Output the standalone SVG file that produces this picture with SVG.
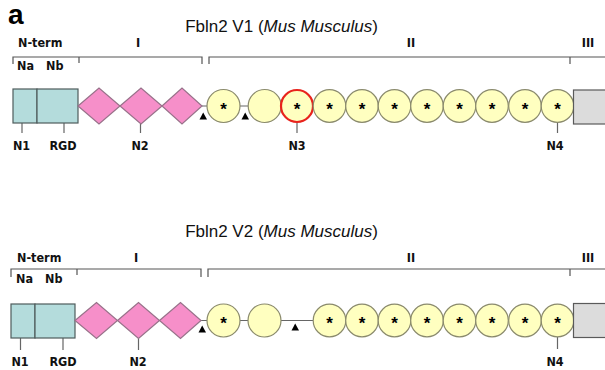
<svg xmlns="http://www.w3.org/2000/svg" width="605" height="370" viewBox="0 0 605 370">
<style>
.bg{fill:#ffffff}
.title{font-family:"Liberation Sans",Arial,sans-serif;font-size:17px;fill:#111}
.lab{font-family:"DejaVu Sans Condensed","DejaVu Sans","Liberation Sans",sans-serif;font-stretch:condensed;font-weight:bold;font-size:12.5px;fill:#111}
.big{font-family:"Liberation Sans",Arial,sans-serif;font-weight:bold;font-size:28px;fill:#000}
.star{font-family:"Liberation Sans",Arial,sans-serif;font-weight:bold;font-size:17px;fill:#000;text-anchor:middle}
.box{fill:#b4dcdc;stroke:#4f5c5c;stroke-width:1.2}
.dia{fill:#f68fc9;stroke:#98728a;stroke-width:1.2}
.cir{fill:#ffffc0;stroke:#8a8a6c;stroke-width:1.2}
.red{fill:#ffffc0;stroke:#e8231c;stroke-width:2.2}
.gray{fill:#dcdcdc;stroke:#5a5a5a;stroke-width:1.2}
.br{fill:none;stroke:#555;stroke-width:1.2}
.ln{fill:none;stroke:#666;stroke-width:1.2}
.tri{fill:#000}
</style>
<rect class="bg" x="0" y="0" width="605" height="370"/>
<text class="big" x="8" y="24">a</text>

<!-- ===== Panel V1 ===== -->
<g id="v1">
<text class="title" x="281.5" y="32" text-anchor="middle">Fbln2 V1 (<tspan font-style="italic">Mus Musculus</tspan>)</text>
<g id="v1-domains">
<text class="lab" x="18" y="47">N-term</text>
<text class="lab" x="138" y="47" text-anchor="middle">I</text>
<text class="lab" x="411" y="47" text-anchor="middle">II</text>
<text class="lab" x="588" y="47" text-anchor="middle">III</text>
<path class="br" d="M13,64 V57 H202 V64 M79,57 V63 M209,64 V57 H605 M570,57 V64"/>
<text class="lab" x="17" y="70">Na</text>
<text class="lab" x="46" y="70">Nb</text>
</g>
<g id="v1-connectors">
<path class="ln" d="M202,106 H207 M240,106 H248"/>
<path class="ln" d="M22,123 V133 M64,123 V133 M140.5,124 V133 M297,122.5 V133 M557.5,122.5 V133"/>
<polygon class="tri" points="199.5,119.5 207,119.5 203.2,112.5"/>
<polygon class="tri" points="241.5,119.5 249,119.5 245.2,112.5"/>
</g>
<g id="v1-na"><rect class="box" x="13" y="89" width="24" height="34"/></g>
<g id="v1-nb"><rect class="box" x="37" y="89" width="41" height="34"/></g>
<g id="v1-d1"><polygon class="dia" points="78,106 99,88 120,106 99,124"/></g>
<g id="v1-d2"><polygon class="dia" points="120,106 141,88 162,106 141,124"/></g>
<g id="v1-d3"><polygon class="dia" points="162,106 182,88 202,106 182,124"/></g>
<g id="v1-c1"><circle class="cir" cx="223.5" cy="106" r="16.5"/><text class="star" x="223.5" y="114.5">*</text></g>
<g id="v1-c2"><circle class="cir" cx="264.7" cy="106" r="16.5"/></g>
<g id="v1-c3"><circle class="red" cx="297" cy="106" r="16"/><text class="star" x="297" y="114.5">*</text></g>
<g id="v1-c4"><circle class="cir" cx="329.5" cy="106" r="16.3"/><text class="star" x="329.5" y="114.5">*</text></g>
<g id="v1-c5"><circle class="cir" cx="362" cy="106" r="16.3"/><text class="star" x="362" y="114.5">*</text></g>
<g id="v1-c6"><circle class="cir" cx="394.5" cy="106" r="16.3"/><text class="star" x="394.5" y="114.5">*</text></g>
<g id="v1-c7"><circle class="cir" cx="427" cy="106" r="16.3"/><text class="star" x="427" y="114.5">*</text></g>
<g id="v1-c8"><circle class="cir" cx="459.5" cy="106" r="16.3"/><text class="star" x="459.5" y="114.5">*</text></g>
<g id="v1-c9"><circle class="cir" cx="492" cy="106" r="16.3"/><text class="star" x="492" y="114.5">*</text></g>
<g id="v1-c10"><circle class="cir" cx="525" cy="106" r="16.3"/><text class="star" x="525" y="114.5">*</text></g>
<g id="v1-c11"><circle class="cir" cx="557.5" cy="106" r="16.3"/><text class="star" x="557.5" y="114.5">*</text></g>
<g id="v1-c12"><rect class="gray" x="573.5" y="90" width="40" height="34"/></g>
<g id="v1-sites">
<text class="lab" x="21.5" y="150" text-anchor="middle">N1</text>
<text class="lab" x="63" y="150" text-anchor="middle">RGD</text>
<text class="lab" x="140" y="150" text-anchor="middle">N2</text>
<text class="lab" x="297" y="150" text-anchor="middle">N3</text>
<text class="lab" x="555" y="150" text-anchor="middle">N4</text>
</g>
</g>

<!-- ===== Panel V2 ===== -->
<g id="v2">
<text class="title" x="281.5" y="237" text-anchor="middle">Fbln2 V2 (<tspan font-style="italic">Mus Musculus</tspan>)</text>
<g id="v2-domains">
<text class="lab" x="17" y="262">N-term</text>
<text class="lab" x="136" y="262" text-anchor="middle">I</text>
<text class="lab" x="411" y="262" text-anchor="middle">II</text>
<text class="lab" x="588" y="262" text-anchor="middle">III</text>
<path class="br" d="M11,277 V269 H201 V277 M77,269 V275 M208,277 V269 H605 M570,269 V276"/>
<text class="lab" x="16" y="283">Na</text>
<text class="lab" x="45" y="283">Nb</text>
</g>
<g id="v2-connectors">
<path class="ln" d="M201,320.5 H207 M240,320.5 H248 M281,320.5 H313"/>
<path class="ln" d="M20.5,338 V350 M63,338 V350 M138.5,338.5 V350 M557.5,336.8 V349"/>
<polygon class="tri" points="198.5,332.5 206,332.5 202.2,325.5"/>
<polygon class="tri" points="291.5,330.5 299,330.5 295.2,323.5"/>
</g>
<g id="v2-na"><rect class="box" x="11" y="304" width="24" height="34"/></g>
<g id="v2-nb"><rect class="box" x="35" y="304" width="40" height="34"/></g>
<g id="v2-d1"><polygon class="dia" points="75,320.5 96.5,302.5 117.5,320.5 96.5,338.5"/></g>
<g id="v2-d2"><polygon class="dia" points="117.5,320.5 138.5,302.5 159.5,320.5 138.5,338.5"/></g>
<g id="v2-d3"><polygon class="dia" points="159.5,320.5 180.5,302.5 201,320.5 180.5,338.5"/></g>
<g id="v2-c1"><circle class="cir" cx="223.5" cy="320.5" r="16.5"/><text class="star" x="223.5" y="329">*</text></g>
<g id="v2-c2"><circle class="cir" cx="264.5" cy="320.5" r="16.5"/></g>
<g id="v2-c3"><circle class="cir" cx="329.5" cy="320.5" r="16.3"/><text class="star" x="329.5" y="329">*</text></g>
<g id="v2-c4"><circle class="cir" cx="362" cy="320.5" r="16.3"/><text class="star" x="362" y="329">*</text></g>
<g id="v2-c5"><circle class="cir" cx="394.5" cy="320.5" r="16.3"/><text class="star" x="394.5" y="329">*</text></g>
<g id="v2-c6"><circle class="cir" cx="427" cy="320.5" r="16.3"/><text class="star" x="427" y="329">*</text></g>
<g id="v2-c7"><circle class="cir" cx="459.5" cy="320.5" r="16.3"/><text class="star" x="459.5" y="329">*</text></g>
<g id="v2-c8"><circle class="cir" cx="492" cy="320.5" r="16.3"/><text class="star" x="492" y="329">*</text></g>
<g id="v2-c9"><circle class="cir" cx="525" cy="320.5" r="16.3"/><text class="star" x="525" y="329">*</text></g>
<g id="v2-c10"><circle class="cir" cx="557.5" cy="320.5" r="16.3"/><text class="star" x="557.5" y="329">*</text></g>
<g id="v2-c11"><rect class="gray" x="573.5" y="303.5" width="40" height="34"/></g>
<g id="v2-sites">
<text class="lab" x="20" y="366" text-anchor="middle">N1</text>
<text class="lab" x="63" y="366" text-anchor="middle">RGD</text>
<text class="lab" x="138" y="366" text-anchor="middle">N2</text>
<text class="lab" x="555" y="366" text-anchor="middle">N4</text>
</g>
</g>
</svg>
